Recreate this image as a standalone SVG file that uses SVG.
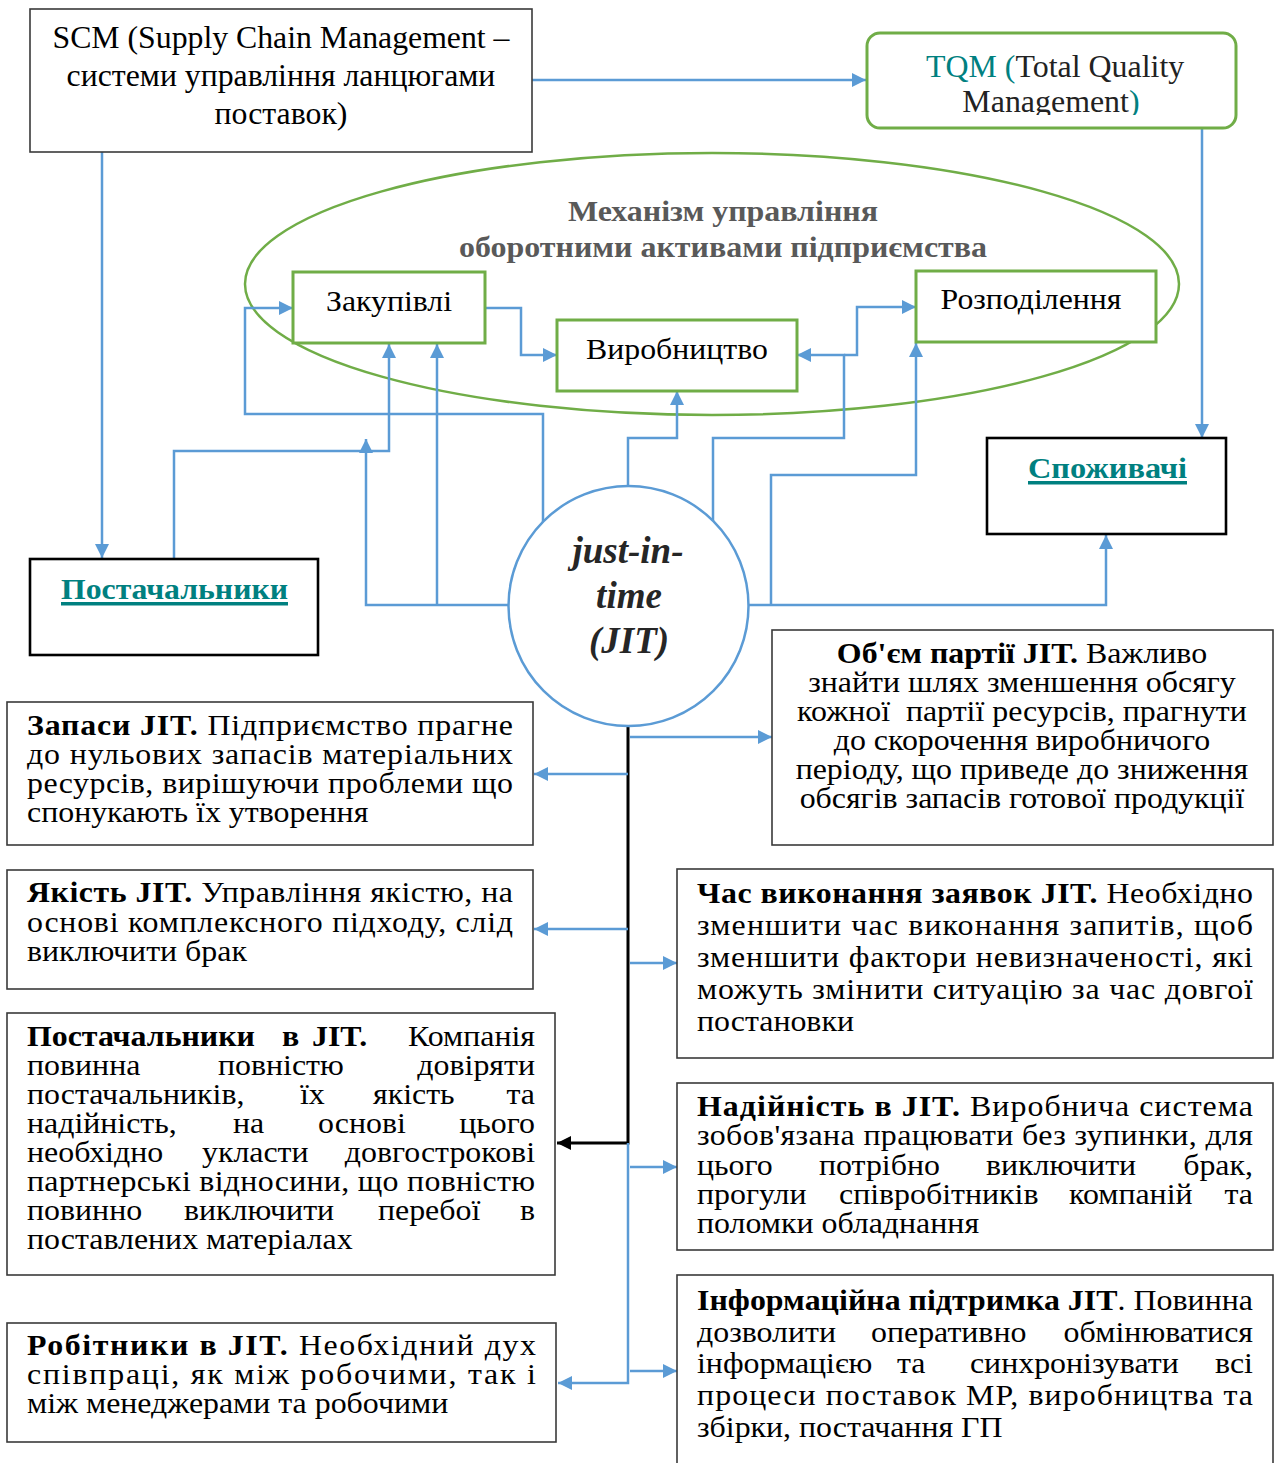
<svg xmlns="http://www.w3.org/2000/svg" width="1274" height="1463" viewBox="0 0 1274 1463">
<style>
.tx{font-family:"Liberation Serif","Times New Roman",serif;font-size:30px;fill:#000}
.bd{font-weight:bold}
.box{fill:#fff;stroke:#3a3a3a;stroke-width:1.6}
.kbox{fill:#fff;stroke:#000;stroke-width:2.6}
.gbox{fill:#fff;stroke:#70AD47;stroke-width:3}
.ca{fill:none;stroke:#5B9BD5;stroke-width:2.5;marker-end:url(#ab)}
.teal{fill:#008080}
</style>
<defs>
<marker id="ab" markerUnits="userSpaceOnUse" markerWidth="15" markerHeight="14" refX="14" refY="7" orient="auto"><path d="M0,0 L14,7 L0,14 z" fill="#5B9BD5"/></marker>
<marker id="ak" markerUnits="userSpaceOnUse" markerWidth="15" markerHeight="14" refX="14" refY="7" orient="auto"><path d="M0,0 L14,7 L0,14 z" fill="#000"/></marker>
<clipPath id="tqmclip"><rect x="867" y="33" width="369" height="82"/></clipPath>
</defs>

<g id="mechanism">
<ellipse cx="712" cy="284" rx="467" ry="131" fill="none" stroke="#70AD47" stroke-width="2.5"/>
<g transform="matrix(1.065 0 0 1 -47.0 0)">
<text class="tx bd" x="723" y="221" text-anchor="middle" style="fill:#595959">Механізм управління</text>
<text class="tx bd" x="723" y="257" text-anchor="middle" style="fill:#595959">оборотними активами підприємства</text>
</g>
</g>

<g id="connectors">
<path class="ca" d="M532,80 H866"/>
<path class="ca" d="M102,152 V558"/>
<path class="ca" d="M1202,128 V438"/>
<path class="ca" d="M174,559 V451 H389 V344"/>
<path class="ca" d="M509,605 H366 V439"/>
<path class="ca" d="M437,605 V344"/>
<path class="ca" d="M543,522 V414 H245 V308 H293"/>
<path class="ca" d="M485,308 H521 V355 H557"/>
<path class="ca" d="M628,486 V438 H677 V391"/>
<path class="ca" d="M713,522 V438 H844 V355 H797"/>
<path class="ca" d="M844,355 H857 V307 H916"/>
<path class="ca" d="M771,605 V475 H916 V343"/>
<path class="ca" d="M748,605 H1106 V535"/>
<path d="M628,726 V1143 H557" fill="none" stroke="#000" stroke-width="3" marker-end="url(#ak)"/>
<path class="ca" d="M628,1143 V1383 H558"/>
<path class="ca" d="M630,737 H772"/>
<path class="ca" d="M628,774 H534"/>
<path class="ca" d="M628,929 H534"/>
<path class="ca" d="M630,963 H677"/>
<path class="ca" d="M630,1167 H677"/>
<path class="ca" d="M630,1371 H677"/>
</g>

<g id="scm">
<rect class="box" x="30" y="9" width="502" height="143"/>
<g transform="matrix(1.025 0 0 1 -7.03 0)">
<text class="tx" x="281" y="48" text-anchor="middle" style="font-size:31px">SCM (Supply Chain Management –</text>
<text class="tx" x="281" y="86" text-anchor="middle" style="font-size:31px">системи управління ланцюгами</text>
<text class="tx" x="281" y="124" text-anchor="middle" style="font-size:31px">поставок)</text>
</g>
</g>

<g id="tqm">
<rect class="gbox" x="867" y="33" width="369" height="95" rx="13"/>
<g clip-path="url(#tqmclip)">
<g transform="matrix(1.03 0 0 1 -31.56 0)">
<text class="tx" x="1055" y="77" text-anchor="middle" style="font-size:31px"><tspan class="teal">TQM (</tspan><tspan fill="#222">Total Quality</tspan></text>
<text class="tx" x="1051" y="112" text-anchor="middle" style="font-size:31px"><tspan fill="#222">Management</tspan><tspan class="teal">)</tspan></text>
</g>
</g>
</g>

<g id="zakupivli">
<rect class="gbox" x="293" y="272" width="192" height="71"/>
<text class="tx" x="389" y="311" text-anchor="middle" transform="matrix(1.06 0 0 1 -23.34 0)">Закупівлі</text>
</g>

<g id="vyrobnytstvo">
<rect class="gbox" x="557" y="320" width="240" height="71"/>
<text class="tx" x="677" y="359" text-anchor="middle" transform="matrix(1.06 0 0 1 -40.62 0)">Виробництво</text>
</g>

<g id="rozpodilennya">
<rect class="gbox" x="916" y="271" width="240" height="71"/>
<text class="tx" x="1031" y="309" text-anchor="middle" transform="matrix(1.06 0 0 1 -61.86 0)">Розподілення</text>
</g>

<g id="postachalnyky">
<rect class="kbox" x="30" y="559" width="288" height="96"/>
<text class="tx bd teal" x="61" y="599" textLength="227" lengthAdjust="spacingAndGlyphs" style="font-size:29px">Постачальники</text>
<rect x="61" y="602" width="227" height="3.5" fill="#008080"/>
</g>

<g id="spozhyvachi">
<rect class="kbox" x="987" y="438" width="239" height="96"/>
<text class="tx bd teal" x="1028" y="478" textLength="159" lengthAdjust="spacingAndGlyphs" style="font-size:29px">Споживачі</text>
<rect x="1028" y="481" width="159" height="3.5" fill="#008080"/>
</g>

<g id="jit">
<circle cx="628.5" cy="606" r="120" fill="#fff" stroke="#5B9BD5" stroke-width="2.5"/>
<text class="tx bd" x="628" y="563" text-anchor="middle" style="font-size:37px;font-style:italic;fill:#262626">just-in-</text>
<text class="tx bd" x="629" y="608" text-anchor="middle" style="font-size:37px;font-style:italic;fill:#262626">time</text>
<text class="tx bd" x="629" y="653" text-anchor="middle" style="font-size:37px;font-style:italic;fill:#262626">(JIT)</text>
</g>

<g id="obsyag">
<rect class="box" x="772" y="630" width="501" height="215"/>
<g transform="matrix(1.063 0 0 1 -64.39 0)">
<text class="tx" x="1022" y="663" text-anchor="middle"><tspan class="bd">Об'єм партії JIT.</tspan> Важливо</text>
<text class="tx" x="1022" y="692" text-anchor="middle">знайти шлях зменшення обсягу</text>
<text class="tx" x="1022" y="721" text-anchor="middle" style="white-space:pre">кожної  партії ресурсів, прагнути</text>
<text class="tx" x="1022" y="750" text-anchor="middle">до скорочення виробничого</text>
<text class="tx" x="1022" y="779" text-anchor="middle">періоду, що приведе до зниження</text>
<text class="tx" x="1022" y="808" text-anchor="middle">обсягів запасів готової продукції</text>
</g>
</g>

<g id="zapasy">
<rect class="box" x="7" y="702" width="526" height="143"/>
<g transform="matrix(1.063 0 0 1 -1.701 0)">
<text class="tx" x="27" y="735" textLength="457.2"><tspan class="bd">Запаси JIT.</tspan> Підприємство прагне</text>
<text class="tx" x="27" y="764" textLength="457.2">до нульових запасів матеріальних</text>
<text class="tx" x="27" y="793" textLength="457.2">ресурсів, вирішуючи проблеми що</text>
<text class="tx" x="27" y="822">спонукають їх утворення</text>
</g>
</g>

<g id="yakist">
<rect class="box" x="7" y="870" width="526" height="119"/>
<g transform="matrix(1.063 0 0 1 -1.701 0)">
<text class="tx" x="27" y="902" textLength="457.2"><tspan class="bd">Якість JIT.</tspan> Управління якістю, на</text>
<text class="tx" x="27" y="932" textLength="457.2">основі комплексного підходу, слід</text>
<text class="tx" x="27" y="961">виключити брак</text>
</g>
</g>

<g id="postachalnyky-jit">
<rect class="box" x="7" y="1013" width="548" height="262"/>
<g transform="matrix(1.063 0 0 1 -1.701 0)">
<text class="tx"><tspan class="bd" x="27" y="1046">Постачальники</tspan><tspan class="bd" x="266.9" y="1046">в</tspan><tspan class="bd" x="295.1" y="1046">JIT.</tspan><tspan x="504.9" y="1046" text-anchor="end">Компанія</tspan></text>
<text class="tx"><tspan x="27" y="1075">повинна</tspan><tspan x="206.7" y="1075">повністю</tspan><tspan x="504.9" y="1075" text-anchor="end">довіряти</tspan></text>
<text class="tx"><tspan x="27" y="1104">постачальників,</tspan><tspan x="283.8" y="1104">їх</tspan><tspan x="352.5" y="1104">якість</tspan><tspan x="504.9" y="1104" text-anchor="end">та</tspan></text>
<text class="tx"><tspan x="27" y="1133">надійність,</tspan><tspan x="220.8" y="1133">на</tspan><tspan x="300.8" y="1133">основі</tspan><tspan x="504.9" y="1133" text-anchor="end">цього</tspan></text>
<text class="tx"><tspan x="27" y="1162">необхідно</tspan><tspan x="191.6" y="1162">укласти</tspan><tspan x="504.9" y="1162" text-anchor="end">довгострокові</tspan></text>
<text class="tx" x="27" y="1191" textLength="477.9">партнерські відносини, що повністю</text>
<text class="tx"><tspan x="27" y="1220">повинно</tspan><tspan x="174.7" y="1220">виключити</tspan><tspan x="357.2" y="1220">перебої</tspan><tspan x="504.9" y="1220" text-anchor="end">в</tspan></text>
<text class="tx" x="27" y="1249">поставлених матеріалах</text>
</g>
</g>

<g id="robitnyky">
<rect class="box" x="7" y="1323" width="549" height="119"/>
<g transform="matrix(1.063 0 0 1 -1.701 0)">
<text class="tx" x="27" y="1355" textLength="478.8"><tspan class="bd">Робітники в JIT.</tspan> Необхідний дух</text>
<text class="tx" x="27" y="1384" textLength="478.8">співпраці, як між робочими, так і</text>
<text class="tx" x="27" y="1413">між менеджерами та робочими</text>
</g>
</g>

<g id="chas">
<rect class="box" x="677" y="869" width="596" height="189"/>
<g transform="matrix(1.063 0 0 1 -43.911 0)">
<text class="tx" x="697" y="903" textLength="523"><tspan class="bd">Час виконання заявок JIT.</tspan> Необхідно</text>
<text class="tx" x="697" y="935" textLength="523">зменшити час виконання запитів, щоб</text>
<text class="tx" x="697" y="967" textLength="523">зменшити фактори невизначеності, які</text>
<text class="tx" x="697" y="999" textLength="523">можуть змінити ситуацію за час довгої</text>
<text class="tx" x="697" y="1031">постановки</text>
</g>
</g>

<g id="nadiynist">
<rect class="box" x="677" y="1083" width="596" height="167"/>
<g transform="matrix(1.063 0 0 1 -43.911 0)">
<text class="tx" x="697" y="1116" textLength="523"><tspan class="bd">Надійність в JIT.</tspan> Виробнича система</text>
<text class="tx" x="697" y="1145" textLength="523">зобов'язана працювати без зупинки, для</text>
<text class="tx"><tspan x="697" y="1175">цього</tspan><tspan x="811.8" y="1175">потрібно</tspan><tspan x="968.9" y="1175">виключити</tspan><tspan x="1220" y="1175" text-anchor="end">брак,</tspan></text>
<text class="tx"><tspan x="697" y="1204">прогули</tspan><tspan x="830.6" y="1204">співробітників</tspan><tspan x="1047" y="1204">компаній</tspan><tspan x="1220" y="1204" text-anchor="end">та</tspan></text>
<text class="tx" x="697" y="1233">поломки обладнання</text>
</g>
</g>

<g id="informatsiyna">
<rect class="box" x="677" y="1275" width="596" height="200"/>
<g transform="matrix(1.063 0 0 1 -43.911 0)">
<text class="tx" x="697" y="1310" textLength="523"><tspan class="bd">Інформаційна підтримка JIT</tspan>. Повинна</text>
<text class="tx"><tspan x="697" y="1342">дозволити</tspan><tspan x="860.7" y="1342">оперативно</tspan><tspan x="1220" y="1342" text-anchor="end">обмінюватися</tspan></text>
<text class="tx"><tspan x="697" y="1373">інформацією</tspan><tspan x="885.1" y="1373">та</tspan><tspan x="953.8" y="1373">синхронізувати</tspan><tspan x="1220" y="1373" text-anchor="end">всі</tspan></text>
<text class="tx" x="697" y="1405" textLength="523">процеси поставок МР, виробництва та</text>
<text class="tx" x="697" y="1437">збірки, постачання ГП</text>
</g>
</g>
</svg>
